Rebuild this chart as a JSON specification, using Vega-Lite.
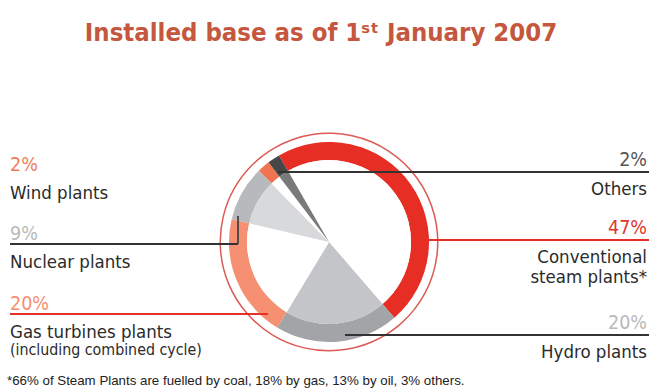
{
  "$schema": "https://vega.github.io/schema/vega-lite/v6.json",
  "width": 640,
  "height": 260,
  "padding": {"left": 9, "right": 0, "top": 112, "bottom": 20},
  "autosize": {"type": "none"},
  "background": "white",
  "config": {"view": {"stroke": null}},
  "title": {
    "text": "Installed base as of 1ˢᵗ January 2007",
    "font": "'DejaVu Sans Condensed', sans-serif",
    "fontSize": 25.5,
    "fontWeight": "bold",
    "color": "#c4573d",
    "anchor": "middle",
    "frame": "group",
    "baseline": "alphabetic",
    "offset": 46,
    "dx": -8
  },
  "data": {
    "values": [
      {"category": "Conventional steam plants*", "label": "Conventional\nsteam plants*", "share": 0.47, "side": "right", "slot": 1},
      {"category": "Hydro plants", "label": "Hydro plants", "share": 0.20, "side": "right", "slot": 2},
      {"category": "Gas turbines plants", "label": "Gas turbines plants", "note": "(including combined cycle)", "share": 0.20, "side": "left", "slot": 3},
      {"category": "Nuclear plants", "label": "Nuclear plants", "share": 0.09, "side": "left", "slot": 4},
      {"category": "Wind plants", "label": "Wind plants", "share": 0.02, "side": "left", "slot": 5},
      {"category": "Others", "label": "Others", "share": 0.02, "side": "right", "slot": 6}
    ]
  },
  "resolve": {"scale": {"color": "independent"}},
  "layer": [
    {
      "mark": {"type": "arc", "radius": 109.5, "radius2": 108, "color": "#dd5a55"},
      "encoding": {
        "theta": {"field": "share", "type": "quantitative", "stack": true, "scale": {"domain": [0, 1], "range": [-0.5236, 5.7596]}},
        "order": {"field": "slot", "type": "quantitative"}
      }
    },
    {
      "mark": {"type": "arc", "radius": 100, "radius2": 82},
      "encoding": {
        "theta": {"field": "share", "type": "quantitative", "stack": true, "scale": {"domain": [0, 1], "range": [-0.5236, 5.7596]}},
        "order": {"field": "slot", "type": "quantitative"},
        "color": {
          "field": "category", "type": "nominal", "legend": null,
          "scale": {
            "domain": ["Conventional steam plants*", "Hydro plants", "Gas turbines plants", "Nuclear plants", "Wind plants", "Others"],
            "range": ["#e62e24", "#a2a4a7", "#f59072", "#b8b9bc", "#f07452", "#474747"]
          }
        }
      }
    },
    {
      "mark": {"type": "arc", "radius": 82, "radius2": 0},
      "encoding": {
        "theta": {"field": "share", "type": "quantitative", "stack": true, "scale": {"domain": [0, 1], "range": [-0.5236, 5.7596]}},
        "order": {"field": "slot", "type": "quantitative"},
        "color": {
          "field": "category", "type": "nominal", "legend": null,
          "scale": {
            "domain": ["Conventional steam plants*", "Hydro plants", "Gas turbines plants", "Nuclear plants", "Wind plants", "Others"],
            "range": ["#ffffff", "#c3c5c8", "#ffffff", "#d8d9db", "#ffffff", "#7a7a7a"]
          }
        }
      }
    },
    {
      "transform": [{"filter": "datum.side === 'left' && datum.slot !== 5"}],
      "mark": {"type": "rule", "strokeWidth": 1.8},
      "encoding": {
        "x": {"field": "slot", "type": "quantitative", "axis": null, "scale": {"domain": [0, 1, 2, 3, 4, 5, 6, 7], "range": [1, 418, 336, 259, 229, 191, 269, 640], "nice": false, "zero": false}},
        "x2": {"datum": 0},
        "y": {"field": "slot", "type": "quantitative", "axis": null, "scale": {"domain": [1, 2, 3, 4, 5, 6, 7], "range": [128, 223, 202, 132, 63, 60, 273], "nice": false, "zero": false}},
        "color": {"field": "category", "type": "nominal", "legend": null, "scale": {"domain": ["Nuclear plants", "Gas turbines plants"], "range": ["#333333", "#e8302a"]}}
      }
    },
    {
      "transform": [{"filter": "datum.category === 'Nuclear plants'"}],
      "mark": {"type": "rule", "strokeWidth": 1.8, "color": "#444444"},
      "encoding": {
        "x": {"field": "slot", "type": "quantitative", "axis": null, "scale": {"domain": [0, 1, 2, 3, 4, 5, 6, 7], "range": [1, 418, 336, 259, 229, 191, 269, 640], "nice": false, "zero": false}},
        "y": {"field": "slot", "type": "quantitative", "axis": null, "scale": {"domain": [1, 2, 3, 4, 5, 6, 7], "range": [128, 223, 202, 132, 63, 60, 273], "nice": false, "zero": false}},
        "y2": {"datum": 4.406}
      }
    },
    {
      "transform": [{"filter": "datum.side === 'right'"}],
      "mark": {"type": "rule", "strokeWidth": 1.8},
      "encoding": {
        "x": {"field": "slot", "type": "quantitative", "axis": null, "scale": {"domain": [0, 1, 2, 3, 4, 5, 6, 7], "range": [1, 418, 336, 259, 229, 191, 269, 640], "nice": false, "zero": false}},
        "x2": {"datum": 7},
        "y": {"field": "slot", "type": "quantitative", "axis": null, "scale": {"domain": [1, 2, 3, 4, 5, 6, 7], "range": [128, 223, 202, 132, 63, 60, 273], "nice": false, "zero": false}},
        "color": {"field": "category", "type": "nominal", "legend": null, "scale": {"domain": ["Others", "Conventional steam plants*", "Hydro plants"], "range": ["#333333", "#e8302a", "#333333"]}}
      }
    },
    {
      "transform": [{"filter": "datum.side === 'left'"}],
      "mark": {"type": "text", "align": "left", "baseline": "alphabetic", "dy": -4, "font": "'DejaVu Sans Condensed', sans-serif", "fontSize": 19.5},
      "encoding": {
        "x": {"datum": 0, "type": "quantitative", "axis": null, "scale": {"domain": [0, 1, 2, 3, 4, 5, 6, 7], "range": [1, 418, 336, 259, 229, 191, 269, 640], "nice": false, "zero": false}},
        "y": {"field": "slot", "type": "quantitative", "axis": null, "scale": {"domain": [1, 2, 3, 4, 5, 6, 7], "range": [128, 223, 202, 132, 63, 60, 273], "nice": false, "zero": false}},
        "text": {"field": "share", "type": "quantitative", "format": ".0%"},
        "color": {"field": "category", "type": "nominal", "legend": null, "scale": {"domain": ["Wind plants", "Nuclear plants", "Gas turbines plants"], "range": ["#f07d5e", "#b9b9b9", "#f49070"]}}
      }
    },
    {
      "transform": [{"filter": "datum.side === 'right'"}],
      "mark": {"type": "text", "align": "right", "baseline": "alphabetic", "dx": -2, "dy": -6, "font": "'DejaVu Sans Condensed', sans-serif", "fontSize": 19.5},
      "encoding": {
        "x": {"datum": 7, "type": "quantitative", "axis": null, "scale": {"domain": [0, 1, 2, 3, 4, 5, 6, 7], "range": [1, 418, 336, 259, 229, 191, 269, 640], "nice": false, "zero": false}},
        "y": {"field": "slot", "type": "quantitative", "axis": null, "scale": {"domain": [1, 2, 3, 4, 5, 6, 7], "range": [128, 223, 202, 132, 63, 60, 273], "nice": false, "zero": false}},
        "text": {"field": "share", "type": "quantitative", "format": ".0%"},
        "color": {"field": "category", "type": "nominal", "legend": null, "scale": {"domain": ["Others", "Conventional steam plants*", "Hydro plants"], "range": ["#555555", "#e3352b", "#b9b9b9"]}}
      }
    },
    {
      "transform": [{"filter": "datum.side === 'left'"}],
      "mark": {"type": "text", "align": "left", "baseline": "alphabetic", "dy": 24, "font": "'DejaVu Sans Condensed', sans-serif", "fontSize": 18.5, "color": "#2b2b2b"},
      "encoding": {
        "x": {"datum": 0, "type": "quantitative", "axis": null, "scale": {"domain": [0, 1, 2, 3, 4, 5, 6, 7], "range": [1, 418, 336, 259, 229, 191, 269, 640], "nice": false, "zero": false}},
        "y": {"field": "slot", "type": "quantitative", "axis": null, "scale": {"domain": [1, 2, 3, 4, 5, 6, 7], "range": [128, 223, 202, 132, 63, 60, 273], "nice": false, "zero": false}},
        "text": {"field": "label", "type": "nominal"}
      }
    },
    {
      "transform": [{"filter": "datum.note != null"}],
      "mark": {"type": "text", "align": "left", "baseline": "alphabetic", "dy": 41, "font": "'DejaVu Sans Condensed', sans-serif", "fontSize": 15.8, "color": "#2b2b2b"},
      "encoding": {
        "x": {"datum": 0, "type": "quantitative", "axis": null, "scale": {"domain": [0, 1, 2, 3, 4, 5, 6, 7], "range": [1, 418, 336, 259, 229, 191, 269, 640], "nice": false, "zero": false}},
        "y": {"field": "slot", "type": "quantitative", "axis": null, "scale": {"domain": [1, 2, 3, 4, 5, 6, 7], "range": [128, 223, 202, 132, 63, 60, 273], "nice": false, "zero": false}},
        "text": {"field": "note", "type": "nominal"}
      }
    },
    {
      "transform": [{"filter": "datum.side === 'right'"}],
      "mark": {"type": "text", "align": "right", "baseline": "alphabetic", "dx": -2, "dy": 23, "lineBreak": "\n", "lineHeight": 20, "font": "'DejaVu Sans Condensed', sans-serif", "fontSize": 18.5, "color": "#2b2b2b"},
      "encoding": {
        "x": {"datum": 7, "type": "quantitative", "axis": null, "scale": {"domain": [0, 1, 2, 3, 4, 5, 6, 7], "range": [1, 418, 336, 259, 229, 191, 269, 640], "nice": false, "zero": false}},
        "y": {"field": "slot", "type": "quantitative", "axis": null, "scale": {"domain": [1, 2, 3, 4, 5, 6, 7], "range": [128, 223, 202, 132, 63, 60, 273], "nice": false, "zero": false}},
        "text": {"field": "label", "type": "nominal"}
      }
    },
    {
      "data": {"values": [{"footnote": "*66% of Steam Plants are fuelled by coal, 18% by gas, 13% by oil, 3% others."}]},
      "mark": {"type": "text", "align": "left", "baseline": "alphabetic", "dx": -3, "font": "'Liberation Sans', sans-serif", "fontSize": 13.3, "color": "#222222"},
      "encoding": {
        "x": {"datum": 0, "type": "quantitative", "axis": null, "scale": {"domain": [0, 1, 2, 3, 4, 5, 6, 7], "range": [1, 418, 336, 259, 229, 191, 269, 640], "nice": false, "zero": false}},
        "y": {"datum": 7, "type": "quantitative", "axis": null, "scale": {"domain": [1, 2, 3, 4, 5, 6, 7], "range": [128, 223, 202, 132, 63, 60, 273], "nice": false, "zero": false}},
        "text": {"field": "footnote", "type": "nominal"}
      }
    }
  ]
}
